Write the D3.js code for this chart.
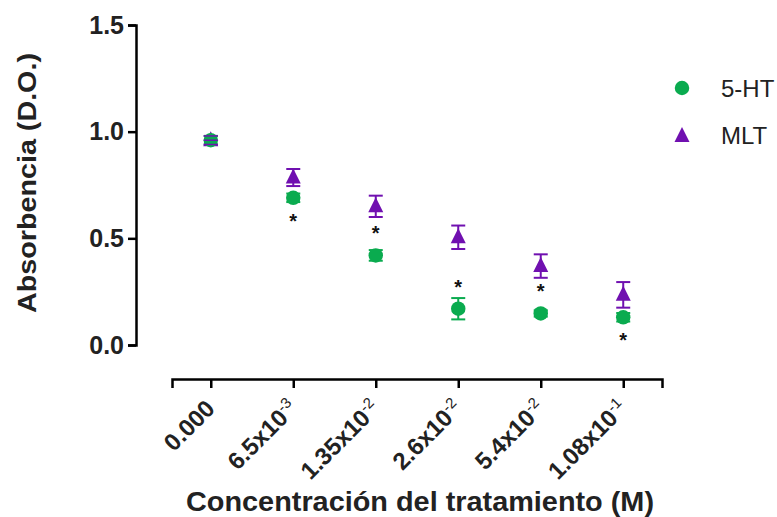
<!DOCTYPE html>
<html><head><meta charset="utf-8">
<script src="https://cdn.jsdelivr.net/npm/d3@7"></script>
<style>body{margin:0;background:#fff}svg{display:block}</style>
</head><body>
<svg id="c" width="777" height="517"></svg>
<script>
const categories = ["0.000","6.5x10^-3","1.35x10^-2","2.6x10^-2","5.4x10^-2","1.08x10^-1"];
const ht5Mean = [0.96, 0.69, 0.42, 0.17, 0.148, 0.13];
const ht5Err  = [0.02, 0.02, 0.025, 0.05, 0.015, 0.02];
const mltMean = [0.96, 0.785, 0.65, 0.505, 0.37, 0.235];
const mltErr  = [0.02, 0.04, 0.05, 0.055, 0.055, 0.06];
const starPos = ["none","below","above","above","above","below"];
const yTicks = [0,0.5,1.0,1.5];
const seriesNames = ["5-HT","MLT"];

const FONT = "Liberation Sans, Arial, Helvetica, sans-serif";
const green = "#0aab4f", purple = "#7010b0";
const svg = d3.select("#c");
const x = d3.scalePoint().domain(categories).range([172,662]).padding(0.47);
const y = d3.scaleLinear().domain([0,1.5]).range([345,25]);

// Y axis
const ya = svg.append("g").attr("transform","translate(136,0)")
  .call(d3.axisLeft(y).tickValues(yTicks).tickFormat(d3.format(".1f")).tickSizeOuter(0).tickSize(8).tickPadding(4));
ya.selectAll("path,line").attr("stroke","#000").attr("stroke-width",2.5);
ya.selectAll("text").attr("font-family",FONT).attr("font-weight","bold").attr("font-size",25).attr("fill","#222");

// X axis
const xa = svg.append("g").attr("transform","translate(0,379)")
  .call(d3.axisBottom(x).tickSizeOuter(0).tickSize(9).tickFormat(""));
xa.selectAll("path,line").attr("stroke","#000").attr("stroke-width",2.5);
xa.selectAll(".tick").each(function(d){
  const g = d3.select(this);
  const parts = d.split("^");
  const t = g.append("text").attr("transform","translate(5,31) rotate(-45)")
    .attr("text-anchor","end").attr("font-family",FONT)
    .attr("font-weight","bold").attr("font-size",24).attr("fill","#222");
  t.append("tspan").text(parts[0]);
  if(parts[1]) t.append("tspan").attr("dy",-9).attr("font-size",15).attr("font-weight","normal").text(parts[1]);
});

// Axis titles
svg.append("text").attr("transform","translate(36,183) rotate(-90)").attr("text-anchor","middle")
  .attr("font-family",FONT).attr("font-weight","bold").attr("font-size",26).attr("fill","#222")
  .attr("textLength",260).attr("lengthAdjust","spacingAndGlyphs")
  .text("Absorbencia (D.O.)");
svg.append("text").attr("x",420).attr("y",511).attr("text-anchor","middle")
  .attr("font-family",FONT).attr("font-weight","bold").attr("font-size",27).attr("fill","#222")
  .attr("textLength",468).attr("lengthAdjust","spacingAndGlyphs")
  .text("Concentración del tratamiento (M)");

function errorBars(mean, err, color){
  const g = svg.append("g");
  categories.forEach((c,i)=>{
    const cx = x(c);
    g.append("line").attr("x1",cx).attr("x2",cx).attr("y1",y(mean[i]+err[i])).attr("y2",y(mean[i]-err[i])).attr("stroke",color).attr("stroke-width",2);
    [1,-1].forEach(s=>g.append("line").attr("x1",cx-7).attr("x2",cx+7).attr("y1",y(mean[i]+s*err[i])).attr("y2",y(mean[i]+s*err[i])).attr("stroke",color).attr("stroke-width",2));
  });
}
errorBars(mltMean, mltErr, purple);
errorBars(ht5Mean, ht5Err, green);

const triPath = "M0,-9L7.5,6L-7.5,6Z";
const circ = d3.symbol().type(d3.symbolCircle).size(165);
svg.append("g").selectAll("path").data(categories).join("path")
  .attr("d",triPath).attr("fill",purple)
  .attr("transform",(c,i)=>`translate(${x(c)},${y(mltMean[i])})`);
svg.append("g").selectAll("path").data(categories).join("path")
  .attr("d",circ).attr("fill",green)
  .attr("transform",(c,i)=>`translate(${x(c)},${y(ht5Mean[i])})`);
// overlap at the first concentration: purple caps visible over green
[1,0,-1].forEach(s=>svg.append("line").attr("x1",x(categories[0])-7).attr("x2",x(categories[0])+7)
  .attr("y1",y(mltMean[0]+s*mltErr[0])).attr("y2",y(mltMean[0]+s*mltErr[0])).attr("stroke",purple).attr("stroke-width",1.5));

// significance stars
categories.forEach((c,i)=>{
  if(starPos[i]==="none") return;
  const yy = starPos[i]==="above" ? y(ht5Mean[i]) - 15 : y(ht5Mean[i]) + 30;
  svg.append("text").attr("x",x(c)).attr("y",yy).attr("text-anchor","middle")
    .attr("font-family",FONT).attr("font-weight","bold").attr("font-size",20).attr("fill","#111").text("*");
});

// Legend
const lg = svg.append("g");
lg.append("path").attr("d",circ).attr("fill",green).attr("transform","translate(682,88)");
lg.append("path").attr("d",triPath).attr("fill",purple).attr("transform","translate(682,136)");
seriesNames.forEach((n,i)=>lg.append("text").attr("x",721).attr("y",97+i*47)
  .attr("font-family",FONT).attr("font-size",24).attr("fill","#222").text(n));
</script>
</body></html>
